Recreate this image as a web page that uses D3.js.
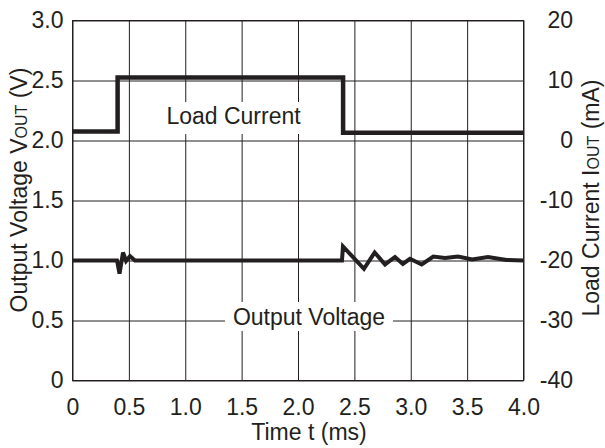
<!DOCTYPE html>
<html>
<head>
<meta charset="utf-8">
<script src="https://cdn.jsdelivr.net/npm/d3@7"></script>
<style>
  html, body { margin: 0; padding: 0; background: #fff; }
  svg { display: block; }
  text { font-family: "Liberation Sans", Arial, Helvetica, sans-serif; fill: #231f20; }
</style>
</head>
<body>
<svg id="chart" width="605" height="448"></svg>
<script>
// ---- data ----
const timeTicks = [0, 0.5, 1.0, 1.5, 2.0, 2.5, 3.0, 3.5, 4.0];
const voltTicks = [0, 0.5, 1.0, 1.5, 2.0, 2.5, 3.0];
const currentTicks = [-40, -30, -20, -10, 0, 10, 20];

const currentTimes  = [0, 0.4, 0.4, 2.4, 2.4, 4.0];
const currentValues = [1.5, 1.5, 10.5, 10.5, 1.3, 1.3];

const voltTimes  = [0, 0.395, 0.417, 0.448, 0.475, 0.510, 0.554, 2.390, 2.399, 2.585, 2.680, 2.772, 2.860, 2.930, 2.993, 3.097, 3.200, 3.304, 3.419, 3.545, 3.685, 3.850, 4.0];
const voltValues = [1.0, 1.0, 0.89, 1.067, 0.996, 1.036, 1.0, 1.0, 1.117, 0.931, 1.067, 0.967, 1.029, 0.971, 1.014, 0.967, 1.033, 1.021, 1.033, 1.008, 1.029, 1.004, 1.0];

// ---- layout ----
const svg = d3.select("#chart");
const ink = "#231f20";
const x = d3.scaleLinear().domain([0, 4]).range([72.5, 523.5]);
const yV = d3.scaleLinear().domain([0, 3]).range([380.5, 20.5]);
const yI = d3.scaleLinear().domain([-40, 20]).range([380.5, 20.5]);
const fs = 23;

// grid via axes
const gx = svg.append("g").attr("transform", `translate(0,${yV(0)})`)
  .call(d3.axisBottom(x).tickValues(timeTicks).tickSize(-(yV(0) - yV(3))).tickPadding(18)
    .tickFormat(d => d === 0 ? "0" : d.toFixed(1)));
const gl = svg.append("g").attr("transform", `translate(${x(0)},0)`)
  .call(d3.axisLeft(yV).tickValues(voltTicks).tickSize(-(x(4) - x(0))).tickPadding(9)
    .tickFormat(d => d === 0 ? "0" : d.toFixed(1)));
const gr = svg.append("g").attr("transform", `translate(${x(4)},0)`)
  .call(d3.axisRight(yI).tickValues(currentTicks).tickSize(0).tickPadding(49.5)
    .tickFormat(d => String(d)));

[gx, gl, gr].forEach(g => {
  g.select(".domain").remove();
  g.selectAll(".tick line").attr("stroke", ink).attr("stroke-width", 1);
  g.selectAll(".tick text").attr("font-size", fs).attr("fill", ink)
    .style("font-family", "'Liberation Sans', Arial, sans-serif");
});
gr.selectAll(".tick text").attr("text-anchor", "end");

// frame
svg.append("rect").attr("x", x(0)).attr("y", yV(3))
  .attr("width", x(4) - x(0)).attr("height", yV(0) - yV(3))
  .attr("fill", "none").attr("stroke", ink).attr("stroke-width", 1);

// white boxes behind in-plot labels
svg.append("rect").attr("x", 160).attr("y", 102).attr("width", 147).attr("height", 32).attr("fill", "#fff");
svg.append("rect").attr("x", 225).attr("y", 302).attr("width", 168).attr("height", 29).attr("fill", "#fff");

// lines
const curLine = d3.line().x((d, i) => x(currentTimes[i])).y((d, i) => yI(currentValues[i]));
svg.append("path").attr("d", curLine(currentTimes))
  .attr("fill", "none").attr("stroke", ink).attr("stroke-width", 4.5)
  .attr("stroke-linejoin", "miter").attr("stroke-linecap", "butt");

const vLine = d3.line().x((d, i) => x(voltTimes[i])).y((d, i) => yV(voltValues[i]));
svg.append("path").attr("d", vLine(voltTimes))
  .attr("fill", "none").attr("stroke", ink).attr("stroke-width", 4)
  .attr("stroke-linejoin", "miter").attr("stroke-miterlimit", 3).attr("stroke-linecap", "butt");

// in-plot labels
svg.append("text").attr("x", 233.5).attr("y", 124).attr("text-anchor", "middle")
  .attr("font-size", fs).text("Load Current");
svg.append("text").attr("x", 309).attr("y", 325).attr("text-anchor", "middle")
  .attr("font-size", fs).text("Output Voltage");

// axis titles
svg.append("text").attr("x", 309).attr("y", 440).attr("text-anchor", "middle")
  .attr("font-size", fs).text("Time t (ms)");

const lt = svg.append("text").attr("transform", "translate(26.5,190) rotate(-90)")
  .attr("text-anchor", "middle").attr("font-size", fs);
lt.append("tspan").text("Output Voltage V");
lt.append("tspan").attr("font-size", 16).text("OUT");
lt.append("tspan").text(" (V)");

const rt = svg.append("text").attr("transform", "translate(599,198) rotate(-90)")
  .attr("text-anchor", "middle").attr("font-size", fs);
rt.append("tspan").text("Load Current I");
rt.append("tspan").attr("font-size", 16).text("OUT");
rt.append("tspan").text(" (mA)");
</script>
</body>
</html>
